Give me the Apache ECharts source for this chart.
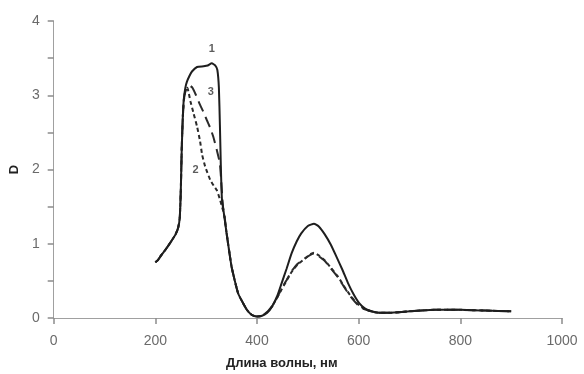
<!DOCTYPE html>
<html>
<head>
<meta charset="utf-8">
<script src="https://cdn.jsdelivr.net/npm/echarts@6/dist/echarts.min.js"></script>
<style>html,body{margin:0;padding:0;background:#fff}#c{width:584px;height:374px}</style>
</head>
<body>
<div id="c"></div>
<script>
// Wavelength (nm) / optical density D pairs
const curve1 = [[200,0.75],[205,0.78],[210,0.83],[220,0.92],[230,1.02],[240,1.13],[245,1.22],[248,1.35],[250,1.7],[252,2.3],[254,2.7],[256,2.95],[259,3.1],[262,3.18],[267,3.26],[272,3.32],[282,3.38],[295,3.39],[303,3.4],[311,3.43],[318,3.4],[322,3.34],[325,3.1],[327,2.6],[329,2.0],[331,1.6],[334,1.45],[340,1.15],[350,0.69],[363,0.33],[380,0.11],[390,0.04],[400,0.02],[410,0.03],[420,0.07],[430,0.16],[440,0.3],[448,0.46],[458,0.66],[468,0.87],[478,1.03],[487,1.14],[500,1.24],[512,1.27],[522,1.23],[533,1.13],[545,0.99],[556,0.83],[568,0.65],[579,0.47],[590,0.32],[601,0.2],[612,0.13],[625,0.09],[640,0.07],[660,0.07],[700,0.09],[750,0.11],[800,0.11],[850,0.1],[900,0.09]];
const curve2 = [[200,0.75],[205,0.78],[210,0.83],[220,0.92],[230,1.02],[240,1.13],[245,1.22],[248,1.35],[250,1.7],[252,2.3],[254,2.7],[256,2.93],[259,3.05],[263,3.1],[266,3.02],[269,2.92],[275,2.76],[282,2.58],[288,2.38],[292,2.2],[298,2.04],[308,1.86],[315,1.78],[321,1.72],[327,1.6],[331,1.5],[335,1.4],[340,1.15],[350,0.69],[363,0.33],[380,0.11],[390,0.04],[400,0.02],[410,0.03],[420,0.08],[430,0.16],[440,0.28],[448,0.38],[458,0.5],[468,0.62],[480,0.72],[494,0.8],[505,0.86],[512,0.88],[520,0.85],[533,0.78],[545,0.68],[559,0.56],[572,0.42],[585,0.29],[598,0.19],[611,0.12],[625,0.09],[640,0.07],[660,0.07],[700,0.09],[750,0.11],[800,0.11],[850,0.1],[900,0.09]];
const curve3 = [[200,0.75],[205,0.78],[210,0.83],[220,0.92],[230,1.02],[240,1.13],[245,1.22],[248,1.35],[250,1.7],[252,2.3],[254,2.7],[256,2.93],[259,3.05],[263,3.1],[268,3.13],[273,3.1],[280,3.0],[288,2.87],[295,2.77],[301,2.67],[308,2.56],[314,2.44],[321,2.26],[327,2.08],[330,1.8],[333,1.5],[336,1.38],[340,1.15],[350,0.69],[363,0.33],[380,0.11],[390,0.04],[400,0.02],[410,0.03],[420,0.08],[430,0.16],[440,0.28],[448,0.39],[458,0.51],[468,0.63],[480,0.73],[494,0.8],[505,0.85],[512,0.87],[520,0.84],[533,0.77],[545,0.67],[559,0.55],[572,0.41],[585,0.28],[598,0.18],[611,0.12],[625,0.09],[640,0.07],[660,0.07],[700,0.09],[750,0.11],[800,0.11],[850,0.1],[900,0.09]];
// Curve number labels
const labelNames = ['1','3','2'];
const labelX = [311, 309, 279];
const labelY = [3.62, 3.05, 2.0];
const xTicks = [0,200,400,600,800,1000];
const yTicks = [0,1,2,3,4];

const chart = echarts.init(document.getElementById('c'));
const axisCol = '#a0a0a0';
const tickCol = '#8c8c8c';
const txtCol = '#6a6a6a';
const ff = 'Liberation Sans, Arial, sans-serif';
chart.setOption({
  animation: false,
  backgroundColor: '#fff',
  grid: {left: 51, right: 22, top: 21, bottom: 56},
  title: {
    text: 'Длина волны, нм', left: 221, top: 352,
    textStyle: {fontFamily: ff, fontSize: 13, fontWeight: 'bold', color: '#222'}
  },
  xAxis: {
    type: 'value', min: xTicks[0], max: xTicks[xTicks.length-1], interval: 200,
    axisLine: {show: true, lineStyle: {color: axisCol, width: 1}},
    axisTick: {show: true, length: 6, lineStyle: {color: tickCol, width: 1.5}},
    splitLine: {show: false},
    axisLabel: {margin: 16, color: txtCol, fontSize: 14, fontFamily: ff, formatter: v => String(v)}
  },
  yAxis: {
    type: 'value', min: yTicks[0], max: yTicks[yTicks.length-1], interval: 1,
    name: 'D', nameLocation: 'middle', nameGap: 27, nameRotate: 90,
    nameTextStyle: {fontFamily: ff, fontSize: 13, fontWeight: 'bold', color: '#222'},
    axisLine: {show: true, lineStyle: {color: axisCol, width: 1}},
    axisTick: {show: true, length: 6, lineStyle: {color: tickCol, width: 1.5}},
    minorTick: {show: true, splitNumber: 2, length: 6, lineStyle: {color: tickCol, width: 1.5}},
    splitLine: {show: false},
    axisLabel: {margin: 14, color: txtCol, fontSize: 14, fontFamily: ff}
  },
  series: [
    {type: 'line', data: curve3, showSymbol: false, smooth: 0.15, lineStyle: {color: '#2a2a2a', width: 2, type: [11, 6]}},
    {type: 'line', data: curve2, showSymbol: false, smooth: 0.15, lineStyle: {color: '#2a2a2a', width: 2, type: [4, 3]}},
    {type: 'line', data: curve1, showSymbol: false, smooth: 0.15, lineStyle: {color: '#1e1e1e', width: 2}},
    {type: 'scatter', symbolSize: 0, silent: true,
      data: labelNames.map((n, i) => ({name: n, value: [labelX[i], labelY[i]]})),
      label: {show: true, position: 'inside', formatter: p => p.name, fontFamily: ff, fontSize: 11, fontWeight: 'bold', color: '#333'}}
  ]
});
</script>
</body>
</html>
